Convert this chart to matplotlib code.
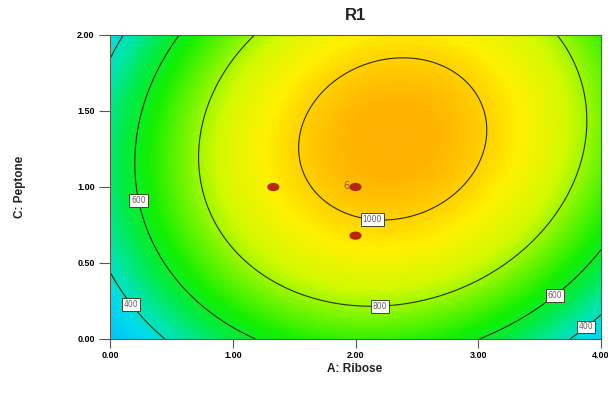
import numpy as np
import matplotlib
matplotlib.use("Agg")
import matplotlib.pyplot as plt
from matplotlib.colors import LinearSegmentedColormap, Normalize
from matplotlib.patches import Ellipse

# ---- data ----
title = "R1"
x_label = "A: Ribose"
y_label = "C: Peptone"
x_ticks = [0.0, 1.0, 2.0, 3.0, 4.0]
y_ticks = [0.0, 0.5, 1.0, 1.5, 2.0]
contour_levels = [400, 600, 800, 1000]

# points (A, C)
pts_400 = [(0.01, 1.86), (0.11, 2.0), (0.0, 0.42), (0.19, 0.20), (0.42, 0.0),
           (3.75, 0.0), (4.0, 0.15)]
pts_600 = [(0.57, 2.0), (0.26, 1.51), (0.20, 1.16), (0.23, 0.87), (0.46, 0.54),
           (0.73, 0.30), (1.14, 0.0), (3.0, 0.0), (3.61, 0.32), (3.99, 0.60)]
pts_800 = [(1.17, 2.0), (0.81, 1.51), (0.73, 1.16), (0.72, 0.98), (1.0, 0.61),
           (1.38, 0.36), (1.96, 0.22), (3.5, 0.61), (3.81, 1.05), (3.87, 1.44),
           (3.64, 2.0)]
pts_1000 = [(1.52, 1.26), (1.60, 1.59), (2.38, 1.84), (2.97, 1.59), (3.05, 1.375),
            (2.92, 1.05), (2.22, 0.77), (1.87, 0.86)]

# design points (red dots)
design_A = [1.33, 2.0, 2.0]
design_C = [1.0, 1.0, 0.68]
design_count_label = ["", "6", ""]

# contour label positions
label_pos = [(0.24, 0.91), (0.19, 0.24), (2.14, 0.82), (2.20, 0.24),
             (3.60, 0.31), (3.85, 0.11)]

# colour scale anchors (response value, colour)
cmap_vals = [250, 350, 450, 550, 650, 750, 850, 950, 1050, 1150]
cmap_cols = ["#00c8f5", "#00dcec", "#00e6a0", "#00eb46", "#14f000", "#6ef500",
             "#d2fa00", "#fff000", "#ffb400", "#ff9600"]

# ---- fit a quadratic response surface through the read contour points ----
rows, vals = [], []
for lev, pts in zip(contour_levels, [pts_400, pts_600, pts_800, pts_1000]):
    for a, c in pts:
        rows.append([1, a, c, a * a, c * c, a * c])
        vals.append(lev)
coef, *_ = np.linalg.lstsq(np.array(rows, float), np.array(vals, float), rcond=None)

A = np.linspace(0, 4, 400)
C = np.linspace(0, 2, 300)
AA, CC = np.meshgrid(A, C)
Z = (coef[0] + coef[1] * AA + coef[2] * CC + coef[3] * AA ** 2
     + coef[4] * CC ** 2 + coef[5] * AA * CC)

vmin, vmax = cmap_vals[0], cmap_vals[-1]
pos = [(v - vmin) / (vmax - vmin) for v in cmap_vals]
cmap = LinearSegmentedColormap.from_list("de", list(zip(pos, cmap_cols)))

fig = plt.figure(figsize=(6.08, 4.01), dpi=100)
ax = fig.add_axes([110 / 608, 1 - 339 / 401, 491 / 608, 304 / 401])

ax.imshow(Z, origin="lower", extent=[0, 4, 0, 2], aspect="auto", cmap=cmap,
          norm=Normalize(vmin, vmax), interpolation="bilinear")
cs = ax.contour(AA, CC, Z, levels=contour_levels, colors="#263000",
                linewidths=0.8)
texts = ax.clabel(cs, fmt="%d", manual=label_pos, inline=False, fontsize=5.5)
for t in texts:
    t.set_rotation(0)
    t.set_color("#606060")
    t.set_zorder(4)
    t.set_bbox(dict(boxstyle="square,pad=0.25", fc="white", ec="#3a4a20", lw=0.7))

for a, c, lab in zip(design_A, design_C, design_count_label):
    ax.add_patch(Ellipse((a, c), width=0.088, height=0.045, color="#b42810",
                         zorder=5))
    if lab:
        ax.annotate(lab, (a, c), xytext=(-4, 0.5), textcoords="offset points",
                    ha="right", va="center", fontsize=7, color="#8a5a30",
                    zorder=6)

ax.set_xlim(0, 4)
ax.set_ylim(0, 2)
ax.set_xticks(x_ticks)
ax.set_yticks(y_ticks)
ax.set_xticklabels([f"{v:.2f}" for v in x_ticks], fontsize=6.5,
                   fontweight="bold", family="Liberation Sans")
ax.set_yticklabels([f"{v:.2f}" for v in y_ticks], fontsize=6.5,
                   fontweight="bold", family="Liberation Sans")
ax.tick_params(axis="x", direction="out", length=6.5, width=0.8,
               color="#555555", pad=2)
ax.tick_params(axis="y", direction="out", length=8, width=0.8,
               color="#555555", pad=3)
for s in ax.spines.values():
    s.set_color("#5a6040")
    s.set_linewidth(0.8)

fig.text(355 / 608, 1 - 16 / 401, title, ha="center", va="center",
         fontsize=12, fontweight="bold", family="Liberation Sans", color="#222222")
fig.text(355 / 608, 1 - 369 / 401, x_label, ha="center", va="center",
         fontsize=8.5, fontweight="bold", family="Liberation Sans", color="#222222")
fig.text(20 / 608, 1 - 187 / 401, y_label, ha="center", va="center",
         rotation=90, fontsize=8.5, fontweight="bold", family="Liberation Sans",
         color="#222222")

fig.savefig("out.png", dpi=100)
